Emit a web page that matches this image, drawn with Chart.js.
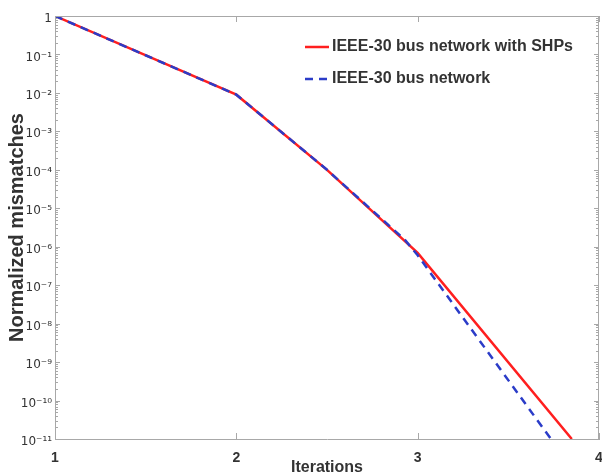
<!DOCTYPE html>
<html><head><meta charset="utf-8">
<script src="https://cdn.jsdelivr.net/npm/chart.js@4.4.1/dist/chart.umd.min.js"></script>
<style>html,body{margin:0;padding:0;background:#fff;overflow:hidden}</style>
</head><body>
<canvas id="c" width="602" height="475"></canvas>
<script>
// ---- data ----
const seriesNames = ['IEEE-30 bus network with SHPs', 'IEEE-30 bus network'];
const iterSHP = [1, 2, 2.5, 3, 3.85];
const mismatchSHP = [1, 9e-3, 1e-4, 6.9e-7, 1e-11];
const iterBase = [1, 2, 2.5, 2.93, 3, 3.735];
const mismatchBase = [1, 9e-3, 1e-4, 1.5e-6, 6e-7, 1e-11];
const xTickValues = [1, 2, 3, 4];
const xTickLabels = ['1', '2', '3', '4'];
const yTickValues = [1, 1e-1, 1e-2, 1e-3, 1e-4, 1e-5, 1e-6, 1e-7, 1e-8, 1e-9, 1e-10, 1e-11];
const yTickLabels = ['1', '10⁻¹', '10⁻²', '10⁻³', '10⁻⁴', '10⁻⁵', '10⁻⁶', '10⁻⁷', '10⁻⁸', '10⁻⁹', '10⁻¹⁰', '10⁻¹¹'];
const xTitle = 'Iterations';
const yTitle = 'Normalized mismatches';

const FONT = "'Liberation Sans', Arial, sans-serif";
const TICK_FONT = "'DejaVu Sans', sans-serif";
const AXIS_COLOR = '#a8a8a8';
const TEXT_COLOR = '#333333';
const RED = '#ff1f1f';
const BLUE = '#2b3cc8';

const toXY = (xs, ys) => xs.map((x, i) => ({x: x, y: ys[i]}));

const framePlugin = {
  id: 'frame',
  afterDatasetsDraw(chart) {
    const {ctx, chartArea, scales} = chart;
    const {left, right, top, bottom} = chartArea;
    const x = scales.x, y = scales.y;
    ctx.save();
    ctx.strokeStyle = AXIS_COLOR;
    ctx.lineWidth = 1;
    ctx.beginPath();
    ctx.moveTo(left, top + 0.5); ctx.lineTo(right, top + 0.5);
    ctx.moveTo(right - 0.5, top); ctx.lineTo(right - 0.5, bottom);
    for (let d = 0; d >= -11; d--) {
      for (let m = 1; m <= 9; m++) {
        const v = m * Math.pow(10, d);
        if (v > 1 || v < 1e-11) continue;
        const py = Math.round(y.getPixelForValue(v)) + 0.5;
        const len = m === 1 ? 5 : 3;
        ctx.moveTo(left, py); ctx.lineTo(left + len, py);
        ctx.moveTo(right, py); ctx.lineTo(right - len, py);
      }
    }
    xTickValues.forEach(v => {
      const px = Math.round(x.getPixelForValue(v)) + 0.5;
      ctx.moveTo(px, bottom); ctx.lineTo(px, bottom - 6);
      ctx.moveTo(px, top); ctx.lineTo(px, top + 6);
    });
    ctx.stroke();
    ctx.restore();
  },
  afterDraw(chart) {
    const ctx = chart.ctx;
    const ds = chart.data.datasets;
    const rows = [47, 79];
    ctx.save();
    ctx.font = "bold 16px " + FONT;
    ctx.textBaseline = 'middle';
    ctx.fillStyle = TEXT_COLOR;
    ds.forEach((d, i) => {
      const yy = rows[i];
      ctx.strokeStyle = d.borderColor;
      ctx.lineWidth = 2.5;
      ctx.setLineDash(d.borderDash || []);
      ctx.beginPath();
      ctx.moveTo(305, yy); ctx.lineTo(329, yy);
      ctx.stroke();
      ctx.setLineDash([]);
      ctx.fillText(d.label, 332, yy);
    });
    ctx.restore();
  }
};

new Chart(document.getElementById('c'), {
  type: 'line',
  data: {
    datasets: [
      {label: seriesNames[0], data: toXY(iterSHP, mismatchSHP), borderColor: RED, borderWidth: 2.5,
       pointRadius: 0, tension: 0, fill: false, order: 2},
      {label: seriesNames[1], data: toXY(iterBase, mismatchBase), borderColor: BLUE, borderWidth: 2.5,
       borderDash: [8, 6], pointRadius: 0, tension: 0, fill: false, order: 1}
    ]
  },
  options: {
    responsive: false,
    animation: false,
    devicePixelRatio: 1,
    layout: {padding: {top: 16, right: 3, left: 0, bottom: 0}, autoPadding: false},
    plugins: {legend: {display: false}, tooltip: {enabled: false}},
    scales: {
      x: {
        type: 'linear', min: 1, max: 4,
        afterFit: s => { s.height = 36; s.paddingLeft = 0; s.paddingRight = 0; },
        afterBuildTicks: s => { s.ticks = xTickValues.map(v => ({value: v})); },
        grid: {display: false, drawTicks: false},
        border: {display: true, color: AXIS_COLOR, width: 1},
        ticks: {
          callback: v => xTickLabels[xTickValues.indexOf(v)],
          padding: 11, color: TEXT_COLOR, font: {family: FONT, size: 14, weight: 'bold'}, maxRotation: 0, autoSkip: false
        },
        title: {display: true, text: xTitle, color: TEXT_COLOR,
                font: {family: FONT, size: 16, weight: 'bold', lineHeight: 1}, padding: {top: 0, bottom: -1}}
      },
      y: {
        type: 'logarithmic', min: 1e-11, max: 1,
        afterFit: s => { s.width = 55; s.paddingTop = 0; s.paddingBottom = 0; },
        afterBuildTicks: s => { s.ticks = yTickValues.map(v => ({value: v})); },
        grid: {display: false, drawTicks: false},
        border: {display: true, color: AXIS_COLOR, width: 1},
        ticks: {
          callback: v => yTickLabels[yTickValues.indexOf(v)],
          padding: 3, labelOffset: 3, color: TEXT_COLOR, font: {family: TICK_FONT, size: 12}, autoSkip: false
        },
        title: {display: true, text: yTitle, color: TEXT_COLOR,
                font: {family: FONT, size: 20, weight: 'bold', lineHeight: 1}, padding: {top: 7, bottom: 0}}
      }
    }
  },
  plugins: [framePlugin]
});
</script>
</body></html>
